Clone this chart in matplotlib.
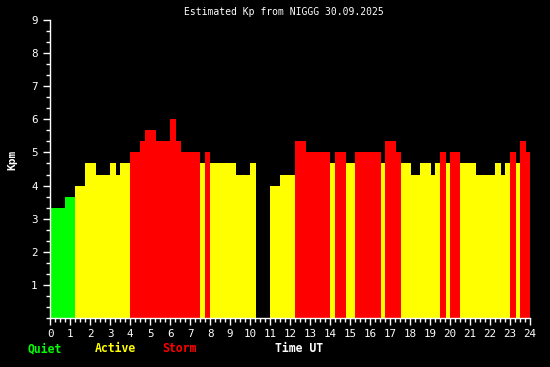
import matplotlib
matplotlib.use("Agg")
import matplotlib.pyplot as plt

# Interval start times (hours UT) and estimated Kp values
starts = [0, 0.75, 1.25, 1.75, 2.3, 3.0, 3.3, 3.5, 4.0, 4.5, 4.75, 5.3, 6.0, 6.3,
          6.55, 7.5, 7.75, 8.0, 9.3, 10.0, 10.3, 11.0, 11.5, 12.25, 12.8, 14.0,
          14.25, 14.8, 15.25, 16.55, 16.75, 17.3, 17.55, 18.05, 18.5, 19.05, 19.25,
          19.5, 19.8, 20.0, 20.5, 21.3, 22.25, 22.55, 22.75, 23.0, 23.3, 23.5, 23.8]
end_time = 24.0
kp = [3.333, 3.667, 4.0, 4.667, 4.333, 4.667, 4.333, 4.667, 5.0, 5.333, 5.667, 5.333,
      6.0, 5.333, 5.0, 4.667, 5.0, 4.667, 4.333, 4.667, 0.0, 4.0, 4.333, 5.333, 5.0,
      4.667, 5.0, 4.667, 5.0, 4.667, 5.333, 5.0, 4.667, 4.333, 4.667, 4.333, 4.667,
      5.0, 4.667, 5.0, 4.667, 4.333, 4.667, 4.333, 4.667, 5.0, 4.667, 5.333, 5.0]

title = "Estimated Kp from NIGGG 30.09.2025"
x_ticks = list(range(0, 25))
y_ticks = list(range(1, 10))

GREEN, YELLOW, RED = "#00ff00", "#ffff00", "#ff0000"

def level_color(v):
    if v < 4:
        return GREEN
    if v < 5:
        return YELLOW
    return RED

fig = plt.figure(figsize=(5.5, 3.67), dpi=100, facecolor="black")
ax = fig.add_axes([50/550, 49/367, 480/550, 298/367])
ax.set_facecolor("black")

widths = [b - a for a, b in zip(starts, starts[1:] + [end_time])]
ax.bar(starts, kp, width=widths, align="edge",
       color=[level_color(v) for v in kp], linewidth=0)

ax.set_xlim(0, 24)
ax.set_ylim(0, 9)
for s in ["top", "right"]:
    ax.spines[s].set_visible(False)
for s in ["left", "bottom"]:
    ax.spines[s].set_color("white")
    ax.spines[s].set_linewidth(1)

mono = "DejaVu Sans Mono"
ax.set_xticks(x_ticks)
ax.set_xticklabels([str(t) for t in x_ticks], fontsize=7.8, family=mono, color="white")
ax.set_xticks([i / 4 for i in range(97)], minor=True)
ax.set_yticks(y_ticks)
ax.set_yticklabels([str(t) for t in y_ticks], fontsize=7.8, family=mono, color="white")
ax.set_yticks([i / 3 for i in range(28)], minor=True)
ax.tick_params(axis="x", which="major", colors="white", length=5, width=1, pad=3)
ax.tick_params(axis="y", which="major", colors="white", length=5, width=1, pad=4)
ax.tick_params(axis="both", which="minor", colors="white", length=3, width=1)

fig.text(284/550, 1 - 12/367, title, ha="center", va="center", color="white",
         fontsize=7.0, family=mono)
fig.text(12/550, 1 - 160/367, "Kpm", rotation=90, ha="center", va="center",
         color="white", fontsize=8, family=mono, fontweight="bold")
fig.text(28/550, 1 - 349/367, "Quiet", ha="left", va="center", color=GREEN,
         fontsize=8.3, family=mono, fontweight="bold")
fig.text(95/550, 1 - 349/367, "Active", ha="left", va="center", color=YELLOW,
         fontsize=8.3, family=mono, fontweight="bold")
fig.text(162/550, 1 - 349/367, "Storm", ha="left", va="center", color=RED,
         fontsize=8.3, family=mono, fontweight="bold")
fig.text(275/550, 1 - 349/367, "Time UT", ha="left", va="center", color="white",
         fontsize=8.3, family=mono, fontweight="bold")

fig.savefig("out.png", dpi=100, facecolor="black")
